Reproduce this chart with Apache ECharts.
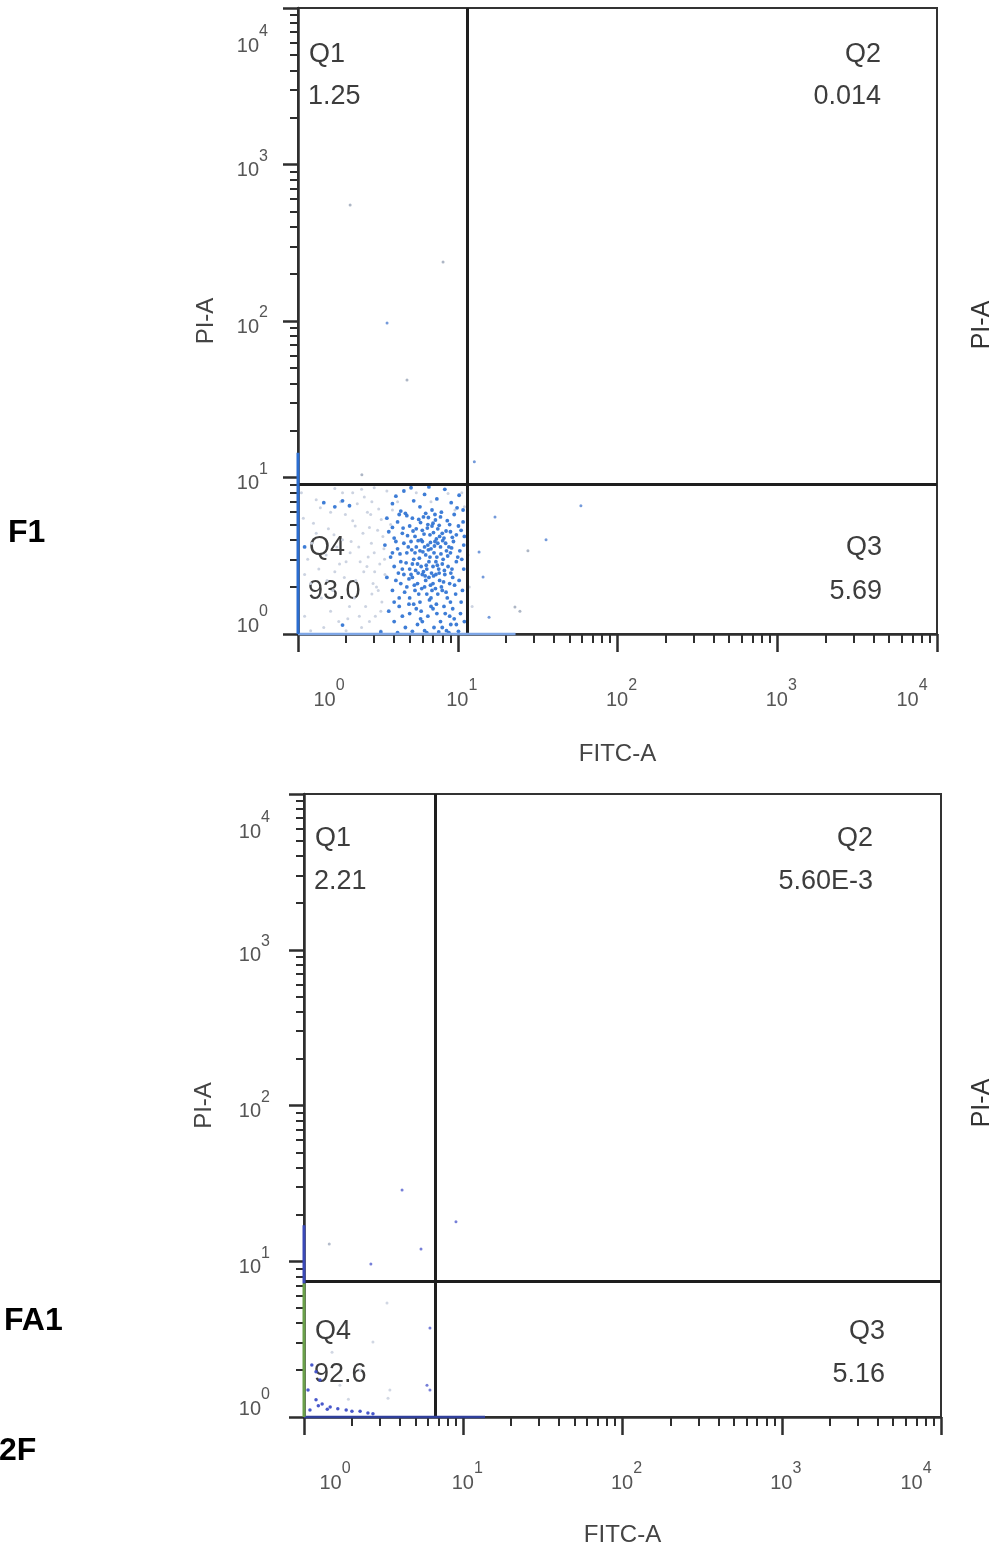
<!DOCTYPE html>
<html>
<head>
<meta charset="utf-8">
<script src="https://cdn.jsdelivr.net/npm/echarts@6/dist/echarts.min.js"></script>
<style>
  html, body { margin: 0; padding: 0; background: #ffffff; }
  #chart { width: 1005px; height: 1550px; }
</style>
</head>
<body>
<div id="chart"></div>
<script>
// ---- axis ticks (log10 decades with 2..9 minor ticks) ----
const majorTicks = [1, 10, 100, 1000, 10000];
const decadeExponents = ['0', '1', '2', '3', '4'];
const minorTicks = [2, 3, 4, 5, 6, 7, 8, 9,
  20, 30, 40, 50, 60, 70, 80, 90,
  200, 300, 400, 500, 600, 700, 800, 900,
  2000, 3000, 4000, 5000, 6000, 7000, 8000, 9000];

// ---- panels ----
const panelNames = ['F1', 'FA1', '2F'];
const xTitle = 'FITC-A';
const yTitle = 'PI-A';
const gateX = [11.4, 6.7];      // FITC-A quadrant threshold
const gateY = [9.0, 7.45];      // PI-A quadrant threshold
const quadNames = ['Q1', 'Q2', 'Q3', 'Q4'];
const quadValuesF1 = ['1.25', '0.014', '5.69', '93.0'];
const quadValuesFA1 = ['2.21', '5.60E-3', '5.16', '92.6'];

// ---- F1 events [FITC-A, PI-A] ----
const f1Dense = [
  [4.1,7.6],[4.6,8.2],[5.3,7.1],[6.2,7.8],[7.4,7.3],[8.3,8.4],[3.9,6.8],[5.8,6.5],[6.9,6.2],[9.1,6.9],
  [10.2,7.7],[4.4,6.1],[7.9,6.0],[5.1,8.6],[6.6,8.7],[1.45,6.9],[1.7,6.5],[1.9,7.1],[2.1,6.6],[1.1,3.6],
  [3.6,5.5],[3.9,4.8],[4.2,5.2],[4.5,4.4],[4.8,5.7],[5.0,4.9],[5.4,4.2],[5.7,5.4],[6.0,4.6],[6.3,5.9],
  [6.7,4.3],[7.0,5.1],[7.5,4.7],[7.8,5.6],[8.2,4.1],[8.6,5.3],[9.0,4.5],[9.5,5.8],[10.1,4.9],[10.8,5.2],
  [4.0,4.1],[4.7,5.9],[5.2,5.5],[5.9,4.0],[6.5,5.0],[7.2,5.8],[8.0,4.4],[8.9,5.0],[9.8,4.3],[3.7,4.5],
  [5.5,4.7],[6.1,5.6],[6.9,4.9],[7.7,4.2],[4.3,5.8],[10.5,4.6],
  [3.5,3.7],[3.8,3.1],[4.0,2.7],[4.2,3.5],[4.4,2.9],[4.6,3.8],[4.8,3.3],[5.0,2.6],[5.1,3.9],[5.3,3.0],
  [5.5,3.6],[5.6,2.8],[5.8,3.4],[6.0,3.9],[6.1,2.5],[6.3,3.2],[6.5,3.7],[6.6,2.9],[6.8,3.5],[7.0,2.7],
  [7.2,3.9],[7.4,3.1],[7.6,2.6],[7.8,3.6],[8.1,3.0],[8.4,3.8],[8.7,2.7],[9.0,3.3],[9.4,3.9],[9.8,2.9],
  [10.3,3.4],[10.9,3.7],[4.1,3.9],[4.5,2.6],[4.9,3.6],[5.4,3.3],[5.9,2.7],[6.2,3.6],[6.7,3.1],[7.1,3.3],
  [7.5,3.8],[8.0,2.8],[8.5,3.4],[9.2,2.6],[10.0,3.1],[3.9,3.3],[5.2,2.8],[6.4,2.6],[7.3,2.9],[8.8,3.6],
  [3.6,2.3],[3.9,1.9],[4.1,2.2],[4.3,1.7],[4.6,2.4],[4.8,2.0],[5.0,1.7],[5.2,2.3],[5.4,1.9],[5.6,2.1],
  [5.8,1.6],[6.0,2.4],[6.2,2.0],[6.4,1.8],[6.6,2.3],[6.8,1.7],[7.0,2.1],[7.3,2.4],[7.5,1.8],[7.7,2.2],
  [8.0,1.9],[8.3,2.4],[8.6,1.7],[8.9,2.1],[9.3,2.3],[9.7,1.8],[10.2,2.2],[10.7,1.9],[4.4,2.1],[5.1,2.4],
  [5.7,1.8],[6.3,2.2],[6.9,1.9],[7.9,2.0],[9.0,1.6],[4.0,1.6],
  [3.7,1.4],[4.0,1.2],[4.3,1.5],[4.7,1.1],[5.0,1.35],[5.3,1.55],[5.6,1.15],[5.9,1.4],[6.2,1.05],[6.5,1.3],
  [6.8,1.5],[7.1,1.1],[7.4,1.35],[7.8,1.2],[8.2,1.5],[8.5,1.05],[8.9,1.3],[9.3,1.45],[9.8,1.15],[10.4,1.35],
  [11.0,1.2],[4.5,1.3],[5.5,1.45],[6.0,1.2],[7.0,1.45],[8.0,1.1],[9.5,1.25],[1.9,1.14],
  [3.3,1.03],[4.2,1.02],[5.2,1.04],[6.4,1.02],[7.6,1.03],[8.8,1.02],[10.1,1.04],
  [4.35,3.25],[4.75,2.85],[5.15,3.45],[5.45,2.55],[5.75,3.05],[6.05,3.35],[6.35,2.75],[6.55,3.45],[6.85,2.45],[7.15,3.65],
  [7.45,2.75],[7.85,3.25],[8.25,2.55],[8.65,3.15],[9.15,3.55],[4.25,2.45],[4.65,1.85],[4.95,2.25],[5.35,2.05],[5.65,2.45],
  [5.95,1.95],[6.25,2.35],[6.75,2.05],[7.05,2.35],[7.25,1.95],[7.65,2.45],[8.15,2.15],[8.45,1.85],[9.05,2.45],[9.55,2.05],
  [4.55,4.75],[4.85,4.25],[5.25,4.55],[5.65,3.95],[6.15,4.35],[6.45,4.75],[6.75,3.85],[7.05,4.45],[7.35,4.05],[7.65,4.95],
  [8.05,3.95],[8.45,4.55],[9.25,4.15],[5.85,5.15],[6.55,5.55],[7.25,5.35],[4.95,1.55],[5.85,1.25],[6.65,1.65],[7.35,1.55],
  [8.35,1.35],[9.05,1.15],[10.5,1.6],[10.9,2.6],[10.6,3.0],[11.0,4.2],[10.8,6.2],[9.9,6.4]
];
const f1Light = [
  [1.1,1.3],[1.2,2.1],[1.3,4.4],[1.4,1.7],[1.5,3.2],[1.6,6.0],[1.7,2.5],[1.8,1.2],[1.9,4.0],[2.0,2.9],
  [2.1,1.5],[2.2,5.3],[2.3,2.2],[2.4,3.6],[2.5,1.1],[2.6,7.5],[2.7,2.7],[2.8,4.8],[2.9,1.8],[3.0,3.3],
  [3.1,2.0],[3.2,6.3],[3.3,1.4],[3.4,4.2],[3.5,2.4],[3.6,8.2],[1.15,3.0],[1.25,5.1],[1.35,2.6],[1.45,1.1],
  [1.55,4.7],[1.65,1.9],[1.75,3.6],[1.85,7.0],[1.95,2.3],[2.05,1.25],[2.15,3.9],[2.25,1.7],[2.35,6.8],[2.45,2.9],
  [2.55,4.4],[2.65,1.5],[2.75,3.1],[2.85,5.8],[2.95,2.1],[3.05,1.3],[3.15,4.6],[3.25,2.8],[3.35,1.6],[3.45,3.5],
  [1.05,8.0],[1.3,7.2],[1.7,8.5],[2.2,8.0],[3.0,8.6],[1.1,2.4],[1.2,1.05],[1.6,1.4],[2.0,1.05],[2.8,1.2],
  [3.3,1.05],[3.8,5.0],[3.9,6.2],[4.2,7.0],[5.5,8.0],[6.8,7.0],[8.7,7.9],[9.6,6.2],[10.6,8.0],[11.0,6.5],
  [11.8,2.0],[12.3,1.5],[11.6,3.2],
  [1.08,5.5],[1.22,3.8],[1.38,6.4],[1.52,2.2],[1.68,4.3],[1.82,2.8],[1.98,5.8],[2.12,3.3],[2.28,4.9],[2.42,1.3],
  [2.58,2.5],[2.72,6.0],[2.88,3.8],[3.02,2.5],[3.18,1.9],[3.32,5.4],[3.48,3.0],[2.5,8.4],[1.9,8.0],[2.9,7.0]
];
const f1OutBlue = [[12.7,12.6],[17.1,5.6],[59,6.6],[35.7,4.0],[13.6,3.34],[14.4,2.31],[15.7,1.28],[3.61,97]];
const f1OutGray = [[2.12,551],[8.09,238],[4.81,42],[2.51,10.4],[27.5,3.4],[22.8,1.49],[24.5,1.40]];
const f1EdgeLeft = [[1, 1], [1, 14.4]];
const f1EdgeBottom = [[1, 1], [23, 1]];

// ---- FA1 events [FITC-A, PI-A] ----
const fa1Dense = [
  [1.12,2.16],[1.19,1.95],[1.26,1.73],[1.19,1.29],[1.30,1.21],[1.46,1.16],[1.63,1.13],[1.84,1.11],[2.0,1.09],
  [2.25,1.09],[2.52,1.06],[2.71,1.05],[1.06,1.49],[1.09,1.11],[1.23,1.18],[1.40,1.12]
];
const fa1Light = [[3.32,5.4],[2.71,3.03],[3.46,1.49],[3.37,1.32],[2.25,2.0],[1.68,1.6],[1.9,1.3],[1.5,2.6]];
const fa1OutBlue = [[6.18,3.73],[5.92,1.6],[6.18,1.49],[4.13,28.7],[9.0,17.9],[2.63,9.6],[5.43,12.0]];
const fa1OutGray = [[1.44,12.9]];
const fa1EdgeLeftUpper = [[1, 7.2], [1, 17]];
const fa1EdgeLeftLower = [[1, 1], [1, 7.2]];
const fa1EdgeBottom = [[1, 1], [13.7, 1]];

// ---- layout ----
const FONT = '"Liberation Sans", Arial, sans-serif';
const grids = [
  { left: 298, top: 8, width: 639, height: 626 },
  { left: 304, top: 794, width: 637, height: 623 }
];

function decadeIndex(v) {
  let best = 0, d = Infinity;
  majorTicks.forEach((t, i) => {
    const dd = Math.abs(Math.log10(v) - Math.log10(t));
    if (dd < d) { d = dd; best = i; }
  });
  return best;
}

const labelColor = '#555';
const xRich = {
  b: { fontSize: 20, fontFamily: FONT, color: labelColor, lineHeight: 32, verticalAlign: 'bottom', padding: [0, 0, 0, 8] },
  bFirst: { fontSize: 20, fontFamily: FONT, color: labelColor, lineHeight: 32, verticalAlign: 'bottom', padding: [0, 0, 0, 62] },
  bLast: { fontSize: 20, fontFamily: FONT, color: labelColor, lineHeight: 32, verticalAlign: 'bottom' },
  s: { fontSize: 16, fontFamily: FONT, color: labelColor, lineHeight: 16, verticalAlign: 'top' },
  sLast: { fontSize: 16, fontFamily: FONT, color: labelColor, lineHeight: 16, verticalAlign: 'top', padding: [0, 50, 0, 0] }
};
const yRich = {
  b: { fontSize: 20, fontFamily: FONT, color: labelColor, lineHeight: 32, verticalAlign: 'bottom' },
  s: { fontSize: 16, fontFamily: FONT, color: labelColor, lineHeight: 16, verticalAlign: 'top' },
  gTop: { fontSize: 8, lineHeight: 64 },
  gBot: { fontSize: 8, lineHeight: 28 }
};

function xLabel(value) {
  const i = decadeIndex(value);
  const e = decadeExponents[i];
  if (i === 0) return '{bFirst|10}{s|' + e + '}';
  if (i === majorTicks.length - 1) return '{bLast|10}{sLast|' + e + '}';
  return '{b|10}{s|' + e + '}';
}
function yLabel(value) {
  const i = decadeIndex(value);
  const e = decadeExponents[i];
  if (i === 0) return '{b|10}{s|' + e + '}\n{gBot| }';
  if (i === majorTicks.length - 1) return '{gTop| }\n{b|10}{s|' + e + '}';
  return '{b|10}{s|' + e + '}';
}

const axisColor = '#2e2e2e';
function makeX(gridIndex, nameGap) {
  return [
    {
      type: 'log', logBase: 10, min: 1, max: 10000, gridIndex, position: 'bottom',
      name: xTitle, nameLocation: 'middle', nameGap,
      nameTextStyle: { fontFamily: FONT, fontSize: 24, color: '#444' },
      axisLine: { show: true, onZero: false, lineStyle: { color: axisColor, width: 2.5 } },
      axisTick: { show: true, customValues: majorTicks, length: 18, lineStyle: { color: axisColor, width: 2.5 } },
      axisLabel: { show: true, customValues: majorTicks, margin: 44, formatter: xLabel, rich: xRich },
      splitLine: { show: false }, minorTick: { show: false }
    },
    {
      type: 'log', logBase: 10, min: 1, max: 10000, gridIndex, position: 'bottom',
      axisLine: { show: false },
      axisTick: { show: true, customValues: minorTicks, length: 9, lineStyle: { color: axisColor, width: 2 } },
      axisLabel: { show: false }, splitLine: { show: false }
    }
  ];
}
function makeY(gridIndex, nameGap, margin) {
  return [
    {
      type: 'log', logBase: 10, min: 1, max: 10000, gridIndex, position: 'left',
      name: yTitle, nameLocation: 'middle', nameGap,
      nameTextStyle: { fontFamily: FONT, fontSize: 24, color: '#444' },
      axisLine: { show: true, onZero: false, lineStyle: { color: axisColor, width: 2.5 } },
      axisTick: { show: true, customValues: majorTicks, length: 15, lineStyle: { color: axisColor, width: 2.5 } },
      axisLabel: { show: true, customValues: majorTicks, margin, formatter: yLabel, rich: yRich },
      splitLine: { show: false }
    },
    {
      type: 'log', logBase: 10, min: 1, max: 10000, gridIndex, position: 'left',
      axisLine: { show: false },
      axisTick: { show: true, customValues: minorTicks, length: 8, lineStyle: { color: axisColor, width: 2 } },
      axisLabel: { show: false }, splitLine: { show: false }
    }
  ];
}

function scatter(data, axisIndex, color, size) {
  return {
    type: 'scatter', data, xAxisIndex: axisIndex, yAxisIndex: axisIndex,
    symbol: 'circle', symbolSize: size, silent: true,
    itemStyle: { color, opacity: 0.95 }, z: 3
  };
}
function edge(data, axisIndex, color, width) {
  return {
    type: 'line', data, xAxisIndex: axisIndex, yAxisIndex: axisIndex,
    showSymbol: false, clip: false, silent: true,
    lineStyle: { color, width }, z: 6
  };
}
function gates(axisIndex, gx, gy) {
  return {
    type: 'scatter', data: [], xAxisIndex: axisIndex, yAxisIndex: axisIndex, silent: true,
    markLine: {
      silent: true, symbol: 'none', animation: false,
      label: { show: false },
      lineStyle: { color: '#1e1e1e', width: 3, type: 'solid' },
      data: [{ xAxis: gx }, { yAxis: gy }]
    },
    z: 5
  };
}

// quadrant annotations
function quadTexts(vals, box) {
  const L = box.qLeft, R = box.qRight;
  const out = [];
  const add = (t, x, y, align) => out.push({
    type: 'text', silent: true,
    style: { text: t, x, y, align, verticalAlign: 'middle', textAlign: align, textVerticalAlign: 'middle',
             font: '27px ' + FONT, fill: '#3d3d3d' }
  });
  add(quadNames[0], L, box.rowTop[0], 'left');
  add(vals[0], L - 1, box.rowTop[1], 'left');
  add(quadNames[1], R, box.rowTop[0], 'right');
  add(vals[1], R, box.rowTop[1], 'right');
  add(quadNames[3], L, box.rowBot[0], 'left');
  add(vals[3], L - 1, box.rowBot[1], 'left');
  add(quadNames[2], R + box.q3dx, box.rowBot[0], 'right');
  add(vals[2], R + box.q3dx, box.rowBot[1], 'right');
  return out;
}

const graphic = [].concat(
  quadTexts(quadValuesF1, { qLeft: 309, qRight: 881, q3dx: 1, rowTop: [55, 97], rowBot: [548, 592] }),
  quadTexts(quadValuesFA1, { qLeft: 315, qRight: 873, q3dx: 12, rowTop: [839, 882], rowBot: [1332, 1375] }),
  [
    { type: 'text', silent: true, style: { text: panelNames[0], x: 8, y: 533, verticalAlign: 'middle', textVerticalAlign: 'middle', font: 'bold 32px ' + FONT, fill: '#000' } },
    { type: 'text', silent: true, style: { text: panelNames[1], x: 4, y: 1321, verticalAlign: 'middle', textVerticalAlign: 'middle', font: 'bold 32px ' + FONT, fill: '#000' } },
    { type: 'text', silent: true, style: { text: panelNames[2], x: -1, y: 1451, verticalAlign: 'middle', textVerticalAlign: 'middle', font: 'bold 32px ' + FONT, fill: '#000' } },
    { type: 'text', silent: true, x: 982, y: 325, rotation: Math.PI / 2,
      style: { text: yTitle, x: 0, y: 0, align: 'center', verticalAlign: 'middle', textAlign: 'center', textVerticalAlign: 'middle', font: '25px ' + FONT, fill: '#333' } },
    { type: 'text', silent: true, x: 982, y: 1103, rotation: Math.PI / 2,
      style: { text: yTitle, x: 0, y: 0, align: 'center', verticalAlign: 'middle', textAlign: 'center', textVerticalAlign: 'middle', font: '25px ' + FONT, fill: '#333' } }
  ]
);

const option = {
  backgroundColor: '#ffffff',
  animation: false,
  grid: grids.map(g => Object.assign({
    show: true, borderColor: '#333', borderWidth: 2, backgroundColor: 'transparent',
    containLabel: false, outerBoundsMode: 'none'
  }, g)),
  xAxis: [].concat(makeX(0, 108), makeX(1, 106)),
  yAxis: [].concat(makeY(0, 80, 30), makeY(1, 88, 34)),
  series: [
    // F1
    scatter(f1Light, 0, '#c9d1df', 3),
    scatter(f1OutGray, 0, '#a9b2c2', 3),
    scatter(f1Dense, 0, '#3476d4', 3.8),
    scatter(f1OutBlue, 0, '#6d95d8', 3),
    edge(f1EdgeBottom, 0, '#7ea6e6', 2.5),
    edge(f1EdgeLeft, 0, '#2b6dd0', 3),
    gates(0, gateX[0], gateY[0]),
    // FA1
    scatter(fa1Light, 2, '#cfd5e2', 3),
    scatter(fa1OutGray, 2, '#b0b8c8', 3),
    scatter(fa1Dense, 2, '#3e4fc8', 3.5),
    scatter(fa1OutBlue, 2, '#6f78d6', 3),
    edge(fa1EdgeBottom, 2, '#2f3f9a', 2.5),
    edge(fa1EdgeLeftUpper, 2, '#3a49b8', 3),
    edge(fa1EdgeLeftLower, 2, '#6aa04a', 3),
    gates(2, gateX[1], gateY[1])
  ],
  graphic
};

const chart = echarts.init(document.getElementById('chart'), null, { renderer: 'canvas' });
chart.setOption(option);
</script>
</body>
</html>
